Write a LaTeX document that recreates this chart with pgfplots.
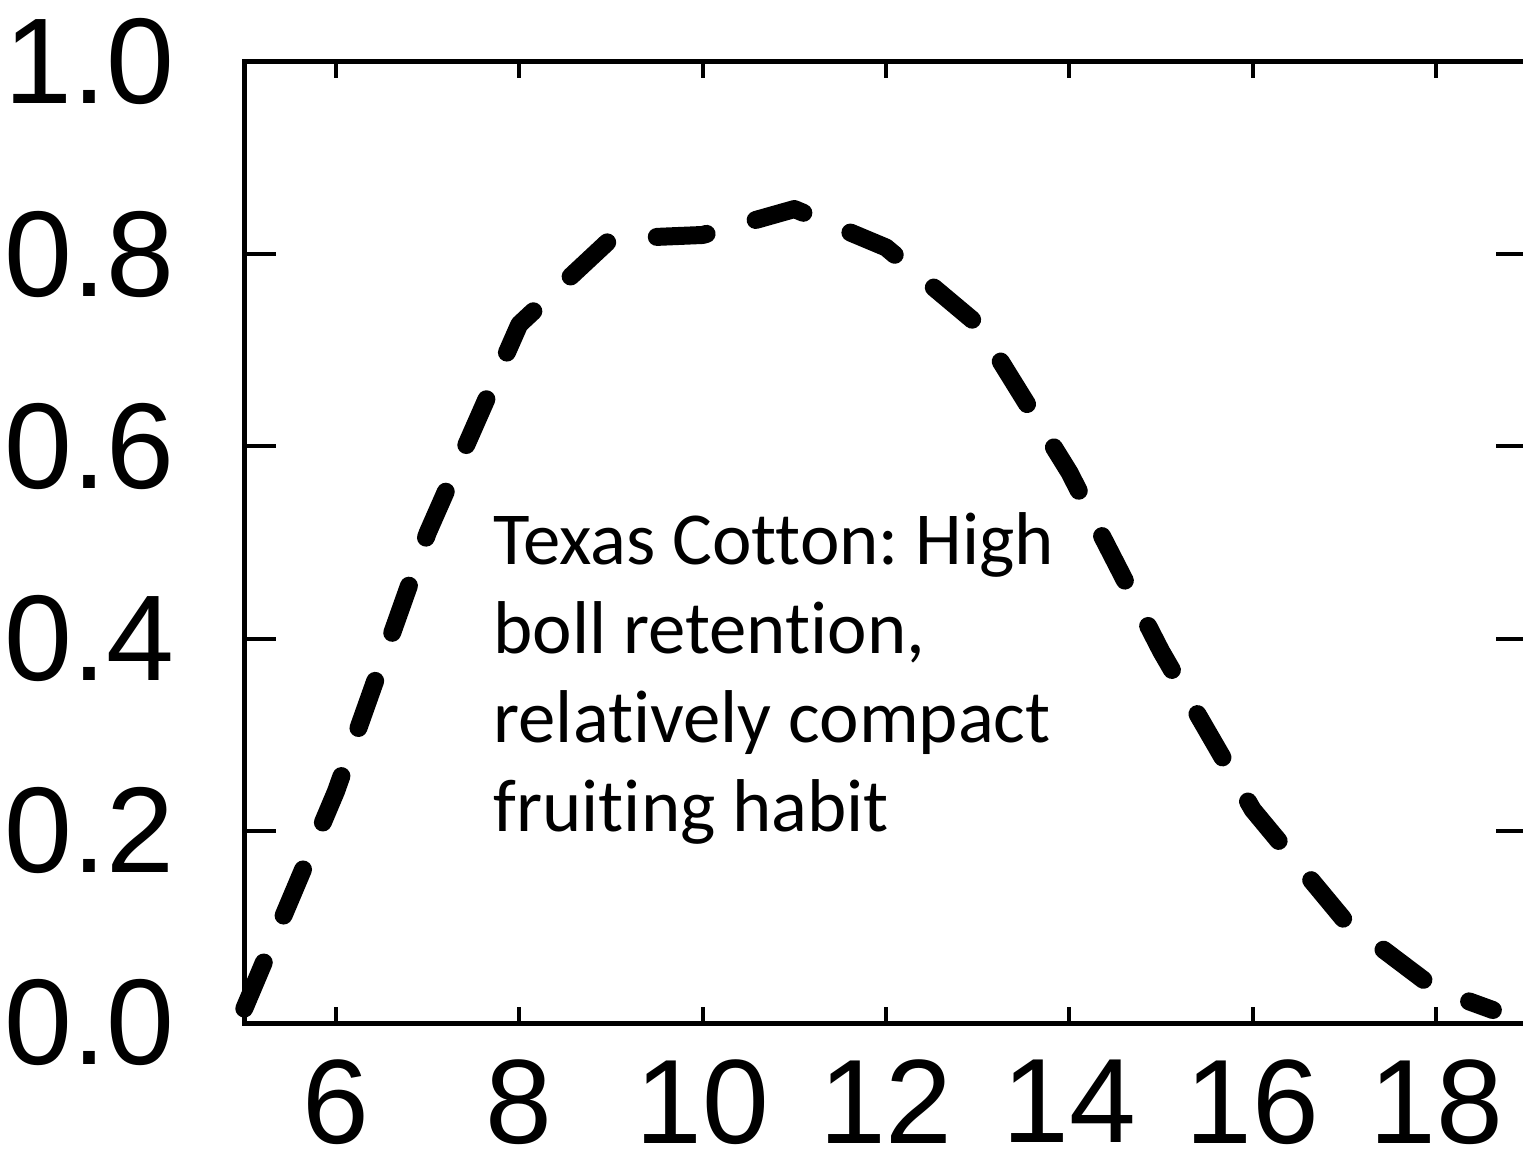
\documentclass[border=0pt]{standalone}
\usepackage{pgfplots}
\pgfplotsset{compat=1.18}
\usepackage{fontspec}
\setmainfont{Liberation Sans}
\newfontfamily\calib[Ligatures=NoCommon]{Carlito}
\frenchspacing
\begin{document}
\begin{tikzpicture}
\begin{axis}[
  name=ax,
  scale only axis,
  width=320.85pt, height=240.25pt,
  xmin=5, xmax=19, ymin=0, ymax=1,
  clip=false,
  axis line style={line width=1.25pt, black},
  xtick={6,8,10,12,14,16,18},
  xticklabels={6,8,10,12,14,16,18},
  ytick={0,0.2,0.4,0.6,0.8,1.0},
  yticklabels={0.0,0.2,0.4,0.6,0.8,1.0},
  tick align=inside,
  xtick style={draw=none},
  ytick style={line width=1pt, black},
  major tick length=8pt,
  yticklabel style={font=\fontsize{30.5}{36}\selectfont, anchor=east, inner sep=0pt, xshift=-17.3pt},
  xticklabel style={font=\fontsize{30}{36}\selectfont, anchor=north, inner sep=0pt, yshift=-9pt},
]
\addplot[black, line width=4.5pt, line cap=round, line join=round, dash pattern=on 12.5pt off 12.75pt] coordinates {
(5,0.015) (6,0.241) (7,0.510) (8,0.727) (9,0.816) (10,0.820) (11,0.847)
(12,0.807) (13,0.727) (14,0.573) (15,0.387) (16,0.222) (17,0.107) (18,0.035) (18.62,0.0135)
};
\pgfplotsinvokeforeach{6,8,10,12,14,16,18}{
  \draw[line width=1pt, black] (axis cs:#1,0) -- ++(0pt,4pt);
  \draw[line width=1pt, black] (axis cs:#1,1) -- ++(0pt,-4pt);
}
\node[anchor=base west, inner sep=0pt, font=\calib\fontsize{18.7}{22}\selectfont] at (axis cs:7.71,0.4766) {Texas Cotton: High};
\node[anchor=base west, inner sep=0pt, font=\calib\fontsize{18.7}{22}\selectfont] at (axis cs:7.71,0.3840) {boll retention,};
\node[anchor=base west, inner sep=0pt, font=\calib\fontsize{18.7}{22}\selectfont] at (axis cs:7.71,0.2914) {relatively compact};
\node[anchor=base west, inner sep=0pt, font=\calib\fontsize{18.7}{22}\selectfont] at (axis cs:7.71,0.1988) {fruiting habit};
\end{axis}
\pgfresetboundingbox
\useasboundingbox ([xshift=-61.08pt,yshift=-33.75pt]ax.south west) rectangle ([xshift=-1.18pt,yshift=15.5pt]ax.north east);
\end{tikzpicture}
\end{document}
